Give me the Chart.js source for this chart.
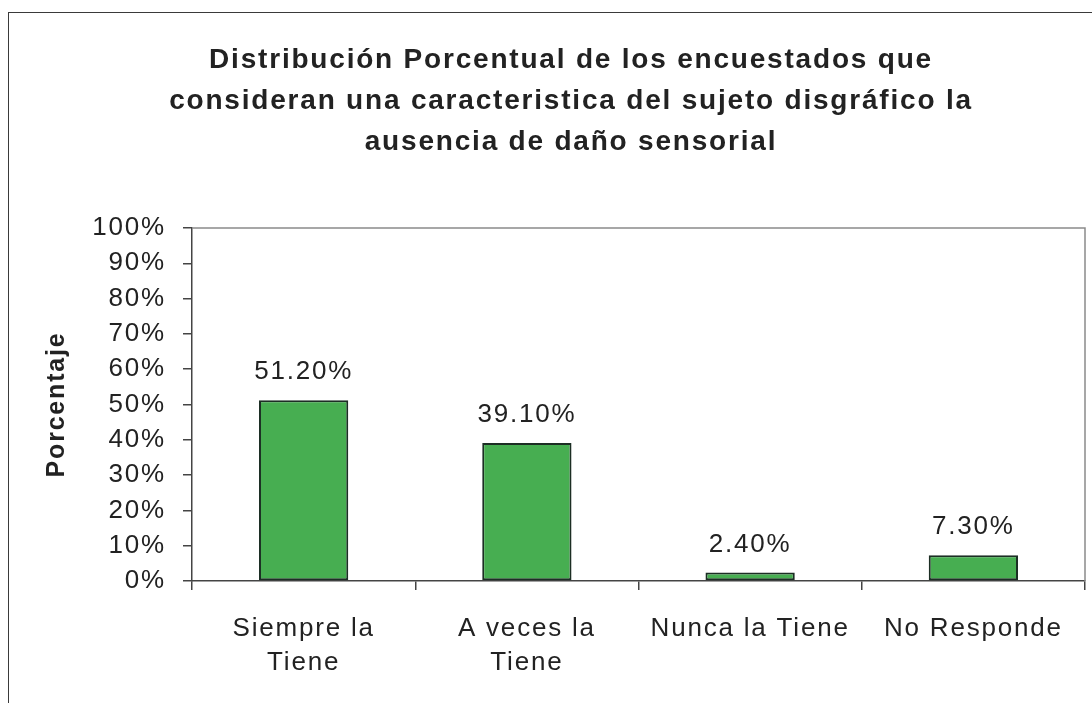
<!DOCTYPE html>
<html>
<head>
<meta charset="utf-8">
<script src="https://cdn.jsdelivr.net/npm/chart.js@4.4.1/dist/chart.umd.min.js"></script>
<style>
  html, body { margin: 0; padding: 0; background: #fff; overflow: hidden; }
  #wrap  { position: absolute; left: 0; top: 0; width: 1140px; height: 703px; }
  #frame { position: absolute; left: 8px; top: 12px; width: 1120px; height: 700px;
           border: 1.5px solid #3a3a3a; box-sizing: border-box; pointer-events: none; }
</style>
</head>
<body>
<div id="wrap"><canvas id="chart" width="1140" height="703"></canvas></div>
<div id="frame"></div>
<script>
// ── Data ─────────────────────────────────────────────────────────────────────
const categories = [['Siempre la', 'Tiene'], ['A veces la', 'Tiene'], 'Nunca la Tiene', 'No Responde'];
const percentValues = [51.2, 39.1, 2.4, 7.3];
const yTicks = [0, 10, 20, 30, 40, 50, 60, 70, 80, 90, 100];
const titleLines = [
  'Distribución Porcentual de los encuestados que',
  'consideran una caracteristica del sujeto disgráfico la',
  'ausencia de daño sensorial'
];

const FONT = '"Liberation Sans", Arial, sans-serif';
const LETTER_SPACING = '1.8px';   // the scanned text is a bit wider than Liberation

// ── Plugins ──────────────────────────────────────────────────────────────────
const spacing = {
  id: 'spacing',
  beforeLayout(chart) { chart.ctx.letterSpacing = LETTER_SPACING; },
  beforeDraw(chart)   { chart.ctx.letterSpacing = LETTER_SPACING; }
};

// title drawn by hand: the original is centred a bit right of the plot centre
const titleBlock = {
  id: 'titleBlock',
  afterDraw(chart) {
    const { ctx } = chart;
    ctx.save();
    ctx.font = 'bold 28px ' + FONT;
    ctx.fillStyle = '#222';
    ctx.textAlign = 'center';
    ctx.textBaseline = 'middle';
    titleLines.forEach((line, i) => ctx.fillText(line, 571, 60 + i * 41));
    ctx.restore();
  }
};

const plotFrame = {
  id: 'plotFrame',
  afterDraw(chart) {
    const { ctx, chartArea: a } = chart;
    ctx.save();
    ctx.strokeStyle = '#8a8a8a';
    ctx.lineWidth = 1.5;
    ctx.beginPath();
    ctx.moveTo(a.left, a.top);
    ctx.lineTo(a.right, a.top);
    ctx.lineTo(a.right, a.bottom);
    ctx.stroke();
    ctx.restore();
  }
};

const valueLabels = {
  id: 'valueLabels',
  afterDatasetsDraw(chart) {
    const { ctx } = chart;
    const meta = chart.getDatasetMeta(0);
    ctx.save();
    ctx.font = '26px ' + FONT;
    ctx.fillStyle = '#222';
    ctx.textAlign = 'center';
    ctx.textBaseline = 'middle';
    meta.data.forEach((bar, i) => {
      ctx.fillText(percentValues[i].toFixed(2) + '%', bar.x, bar.y - 28);
    });
    ctx.restore();
  }
};

// ── Chart ────────────────────────────────────────────────────────────────────
new Chart(document.getElementById('chart'), {
  type: 'bar',
  data: {
    labels: categories,
    datasets: [{
      data: percentValues,
      backgroundColor: '#47ae51',
      borderColor: '#1c2e24',
      borderWidth: 2,
      borderSkipped: false,
      categoryPercentage: 0.4,
      barPercentage: 1.0
    }]
  },
  options: {
    responsive: false,
    animation: false,
    devicePixelRatio: 1,
    layout: { padding: { left: 30, right: 55, top: 228, bottom: 0 } },
    plugins: {
      legend: { display: false },
      tooltip: { enabled: false },
      title: { display: false }
    },
    scales: {
      x: {
        offset: true,
        border: { display: true, color: '#444', width: 1.5 },
        grid: { offset: true, drawOnChartArea: false, drawTicks: true, tickLength: 9, color: '#444', lineWidth: 1.5 },
        ticks: { color: '#222', font: { family: FONT, size: 26, lineHeight: 1.31 }, padding: 22, maxRotation: 0, autoSkip: false },
        afterFit(scale) { scale.height = 122; }
      },
      y: {
        min: 0,
        max: 100,
        afterBuildTicks(scale) { scale.ticks = yTicks.map(v => ({ value: v })); },
        border: { display: true, color: '#444', width: 1.5 },
        grid: { drawOnChartArea: false, drawTicks: true, tickLength: 9, color: '#444', lineWidth: 1.5 },
        ticks: { color: '#222', font: { family: FONT, size: 26 }, padding: 17, callback: v => v + '%' },
        title: { display: true, text: 'Porcentaje', color: '#222', font: { family: FONT, size: 25, weight: 'bold' }, padding: { top: 12, bottom: 0 } },
        afterFit(scale) { scale.width = 162; }
      }
    }
  },
  plugins: [spacing, titleBlock, plotFrame, valueLabels]
});
</script>
</body>
</html>
